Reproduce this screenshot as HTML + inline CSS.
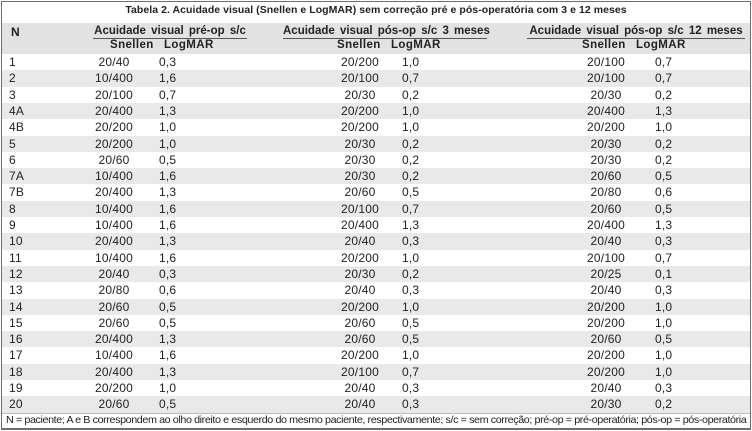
<!DOCTYPE html>
<html><head><meta charset="utf-8"><style>
*{margin:0;padding:0;box-sizing:border-box}
body{width:752px;height:431px;background:#fff;position:relative;overflow:hidden;font-family:"Liberation Sans",Arial,sans-serif;color:#222}
.frame{position:absolute;left:1px;top:1px;width:750px;height:429px;border:1.5px solid #6e6e6e;border-bottom-width:2px}
.t{position:absolute;white-space:nowrap}
.title{top:4px;left:0;width:752px;text-align:center;font-weight:bold;font-size:10.5px;letter-spacing:0.05px}
.hb{position:absolute;left:2px;width:748px;background:#e2e2e2}
.gh{font-weight:bold;font-size:11.5px;letter-spacing:0;word-spacing:2px;border-bottom:1.5px solid #555;line-height:14px;top:24px;text-align:center}
.sh{font-weight:bold;font-size:11.5px;letter-spacing:0.4px;top:39px}
.row{position:absolute;left:2px;width:748px;height:16.3px;font-size:12px;line-height:16px;letter-spacing:0.2px}
.row span{position:absolute;white-space:nowrap}
.a{left:7px}.b{left:72px;width:80px;text-align:center}.c{left:157px}.d{left:318px;width:80px;text-align:center}.e{left:400px}.f{left:564px;width:80px;text-align:center}.h{left:653px}
.g{background:#e9e9e9}
.foot{position:absolute;left:6px;top:414px;font-size:10.5px;white-space:nowrap;transform-origin:0 0;letter-spacing:-0.4px}
</style></head><body>
<div class="hb" style="top:23px;height:31px"></div>
<div class="t title">Tabela 2. Acuidade visual (Snellen e LogMAR) sem correção pré e pós-operatória com 3 e 12 meses</div>
<div class="t" style="left:11px;top:25px;font-weight:bold;font-size:12px">N</div>
<div class="t gh" style="left:93px;width:154px">Acuidade visual pré-op s/c</div>
<div class="t gh" style="left:283px;width:204px">Acuidade visual pós-op s/c 3 meses</div>
<div class="t gh" style="left:527px;width:218px">Acuidade visual pós-op s/c 12 meses</div>
<div class="t sh" style="left:110px">Snellen</div><div class="t sh" style="left:164px">LogMAR</div>
<div class="t sh" style="left:337px">Snellen</div><div class="t sh" style="left:391px">LogMAR</div>
<div class="t sh" style="left:582px">Snellen</div><div class="t sh" style="left:636px">LogMAR</div>

<div class="row" style="top:54px"><span class="a">1</span><span class="b">20/40</span><span class="c">0,3</span><span class="d">20/200</span><span class="e">1,0</span><span class="f">20/100</span><span class="h">0,7</span></div>
<div class="row g" style="top:70.3px"><span class="a">2</span><span class="b">10/400</span><span class="c">1,6</span><span class="d">20/100</span><span class="e">0,7</span><span class="f">20/100</span><span class="h">0,7</span></div>
<div class="row" style="top:86.6px"><span class="a">3</span><span class="b">20/100</span><span class="c">0,7</span><span class="d">20/30</span><span class="e">0,2</span><span class="f">20/30</span><span class="h">0,2</span></div>
<div class="row g" style="top:102.9px"><span class="a">4A</span><span class="b">20/400</span><span class="c">1,3</span><span class="d">20/200</span><span class="e">1,0</span><span class="f">20/400</span><span class="h">1,3</span></div>
<div class="row" style="top:119.2px"><span class="a">4B</span><span class="b">20/200</span><span class="c">1,0</span><span class="d">20/200</span><span class="e">1,0</span><span class="f">20/200</span><span class="h">1,0</span></div>
<div class="row g" style="top:135.5px"><span class="a">5</span><span class="b">20/200</span><span class="c">1,0</span><span class="d">20/30</span><span class="e">0,2</span><span class="f">20/30</span><span class="h">0,2</span></div>
<div class="row" style="top:151.8px"><span class="a">6</span><span class="b">20/60</span><span class="c">0,5</span><span class="d">20/30</span><span class="e">0,2</span><span class="f">20/30</span><span class="h">0,2</span></div>
<div class="row g" style="top:168.1px"><span class="a">7A</span><span class="b">10/400</span><span class="c">1,6</span><span class="d">20/30</span><span class="e">0,2</span><span class="f">20/60</span><span class="h">0,5</span></div>
<div class="row" style="top:184.4px"><span class="a">7B</span><span class="b">20/400</span><span class="c">1,3</span><span class="d">20/60</span><span class="e">0,5</span><span class="f">20/80</span><span class="h">0,6</span></div>
<div class="row g" style="top:200.7px"><span class="a">8</span><span class="b">10/400</span><span class="c">1,6</span><span class="d">20/100</span><span class="e">0,7</span><span class="f">20/60</span><span class="h">0,5</span></div>
<div class="row" style="top:217px"><span class="a">9</span><span class="b">10/400</span><span class="c">1,6</span><span class="d">20/400</span><span class="e">1,3</span><span class="f">20/400</span><span class="h">1,3</span></div>
<div class="row g" style="top:233.3px"><span class="a">10</span><span class="b">20/400</span><span class="c">1,3</span><span class="d">20/40</span><span class="e">0,3</span><span class="f">20/40</span><span class="h">0,3</span></div>
<div class="row" style="top:249.6px"><span class="a">11</span><span class="b">10/400</span><span class="c">1,6</span><span class="d">20/200</span><span class="e">1,0</span><span class="f">20/100</span><span class="h">0,7</span></div>
<div class="row g" style="top:265.9px"><span class="a">12</span><span class="b">20/40</span><span class="c">0,3</span><span class="d">20/30</span><span class="e">0,2</span><span class="f">20/25</span><span class="h">0,1</span></div>
<div class="row" style="top:282.2px"><span class="a">13</span><span class="b">20/80</span><span class="c">0,6</span><span class="d">20/40</span><span class="e">0,3</span><span class="f">20/40</span><span class="h">0,3</span></div>
<div class="row g" style="top:298.5px"><span class="a">14</span><span class="b">20/60</span><span class="c">0,5</span><span class="d">20/200</span><span class="e">1,0</span><span class="f">20/200</span><span class="h">1,0</span></div>
<div class="row" style="top:314.8px"><span class="a">15</span><span class="b">20/60</span><span class="c">0,5</span><span class="d">20/60</span><span class="e">0,5</span><span class="f">20/200</span><span class="h">1,0</span></div>
<div class="row g" style="top:331.1px"><span class="a">16</span><span class="b">20/400</span><span class="c">1,3</span><span class="d">20/60</span><span class="e">0,5</span><span class="f">20/60</span><span class="h">0,5</span></div>
<div class="row" style="top:347.4px"><span class="a">17</span><span class="b">10/400</span><span class="c">1,6</span><span class="d">20/200</span><span class="e">1,0</span><span class="f">20/200</span><span class="h">1,0</span></div>
<div class="row g" style="top:363.7px"><span class="a">18</span><span class="b">20/400</span><span class="c">1,3</span><span class="d">20/100</span><span class="e">0,7</span><span class="f">20/200</span><span class="h">1,0</span></div>
<div class="row" style="top:380px"><span class="a">19</span><span class="b">20/200</span><span class="c">1,0</span><span class="d">20/40</span><span class="e">0,3</span><span class="f">20/40</span><span class="h">0,3</span></div>
<div class="row g" style="top:396.3px"><span class="a">20</span><span class="b">20/60</span><span class="c">0,5</span><span class="d">20/40</span><span class="e">0,3</span><span class="f">20/30</span><span class="h">0,2</span></div>

<div class="t" style="left:2px;top:412.6px;width:748px;border-top:1px solid #bbb"></div>
<div class="foot" id="ft">N = paciente; A e B correspondem ao olho direito e esquerdo do mesmo paciente, respectivamente; s/c = sem correção; pré-op = pré-operatória; pós-op = pós-operatória</div>
<script>var f=document.getElementById("ft");f.style.transform="scaleX("+(740/f.offsetWidth)+")";</script>
<div class="frame"></div>
</body></html>
